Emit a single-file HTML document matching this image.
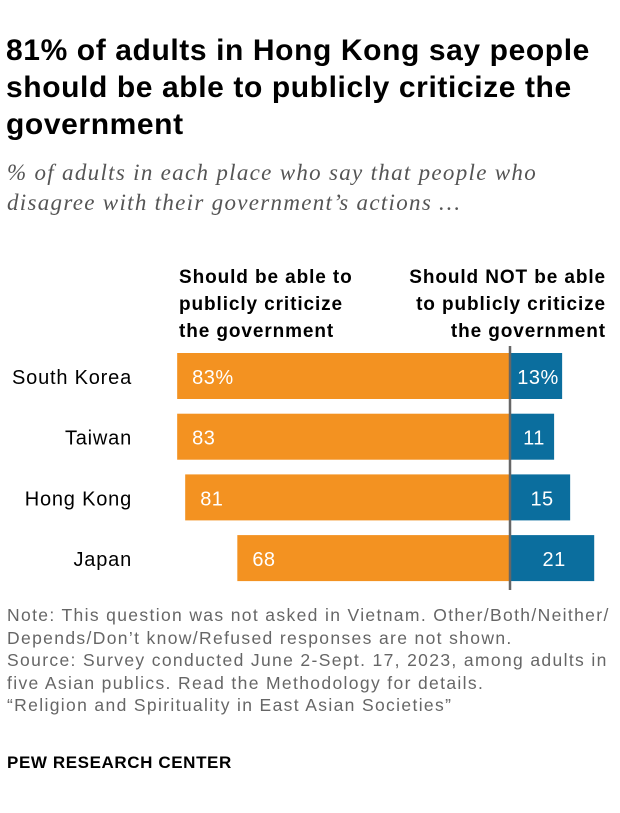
<!DOCTYPE html>
<html><head><meta charset="utf-8"><style>
body{margin:0;background:#fff;font-family:"Liberation Sans",sans-serif;}
#wrap{position:relative;width:620px;height:813px;overflow:hidden;}
.t{position:absolute;white-space:nowrap;}
</style></head><body>
<div id="wrap">
<div class="t" style="left:6px;top:32px;font-size:30px;letter-spacing:0.6px;font-weight:bold;line-height:37px;color:#000;">81% of adults in Hong Kong say people<br>should be able to publicly criticize the<br>government</div>
<div class="t" style="left:7px;top:158px;font-family:'Liberation Serif',serif;font-style:italic;font-size:23px;letter-spacing:1.3px;line-height:30px;color:#555;">% of adults in each place who say that people who<br>disagree with their government’s actions …</div>
<div class="t" style="left:179px;top:264px;font-size:19px;letter-spacing:0.9px;font-weight:bold;line-height:27px;">Should be able to<br>publicly criticize<br>the government</div>
<div class="t" style="right:14px;top:264px;font-size:19px;letter-spacing:0.9px;font-weight:bold;line-height:27px;text-align:right;">Should NOT be able<br>to publicly criticize<br>the government</div>
<svg id="chart" width="620" height="813" style="position:absolute;left:0;top:0"></svg>
<div class="t" style="left:7px;top:604px;font-size:17.5px;letter-spacing:1.35px;line-height:22.5px;color:#666;">Note: This question was not asked in Vietnam. Other/Both/Neither/<br>Depends/Don’t know/Refused responses are not shown.<br>Source: Survey conducted June 2-Sept. 17, 2023, among adults in<br>five Asian publics. Read the Methodology for details.<br>“Religion and Spirituality in East Asian Societies”</div>
<div class="t" style="left:7px;top:753px;font-size:17px;letter-spacing:0.6px;font-weight:bold;color:#000;">PEW RESEARCH CENTER</div>
</div>
<script>
const categories=["South Korea","Taiwan","Hong Kong","Japan"];
const shouldVals=[83,83,81,68];
const shouldNotVals=[13,11,15,21];
const shouldLabels=["83%","83","81","68"];
const notLabels=["13%","11","15","21"];
const svg=document.getElementById('chart');
const NS="http://www.w3.org/2000/svg";
const axisX=510,scale=4.01,top0=353,step=60.7,bh=46;
const x=v=>v*scale;
function mk(t,a){const e=document.createElementNS(NS,t);for(const k in a)e.setAttribute(k,a[k]);svg.appendChild(e);return e;}
categories.forEach((c,i)=>{
 const y=top0+i*step;
 const w1=x(shouldVals[i]);
 const r1=mk('rect',{x:axisX-w1,y:y,width:w1,height:bh,fill:'#f39221'});
 
 
 const w2=x(shouldNotVals[i]);
 const r2=mk('rect',{x:axisX,y:y,width:w2,height:bh,fill:'#0b6e9e'});
 
 
 const t1=mk('text',{x:axisX-w1+15,y:y+31,fill:'#fff','font-size':20,'letter-spacing':0.5});
 t1.textContent=shouldLabels[i];
 
 
 const t2=mk('text',{x:axisX+w2/2+2,y:y+31,fill:'#fff','font-size':20,'text-anchor':'middle','letter-spacing':0.5});
 t2.textContent=notLabels[i];
 
 
 const tc=mk('text',{x:132,y:y+31,fill:'#000','font-size':20,'text-anchor':'end','letter-spacing':0.8});
 tc.textContent=c;
 
 
});
const ax=mk('line',{x1:axisX,x2:axisX,y1:346,y2:590,stroke:'#666','stroke-width':2.5});


</script>
</body></html>
